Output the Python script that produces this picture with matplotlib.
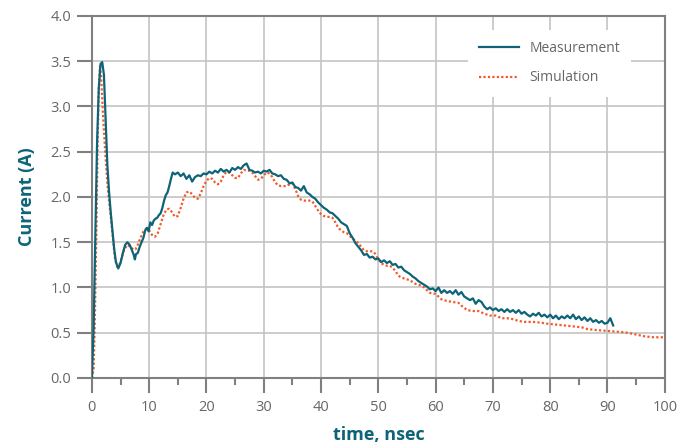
import numpy as np
import matplotlib.pyplot as plt

plt.rcParams["font.family"] = ["Open Sans", "DejaVu Sans"]

TEAL = "#0d6478"
ORANGE = "#f15a29"
GRID = "#c4c4c4"
AXIS = "#808080"
TICKTXT = "#666666"

# measured current: smooth start (pulse + ringing), then noisy record every 0.5 ns
meas_t_start = [0.0, 0.3, 0.6, 0.9, 1.2, 1.5, 1.8, 2.1, 2.4, 2.7, 3.0, 3.3, 3.6,
                3.9, 4.2, 4.6, 5.0, 5.4, 5.8, 6.2, 6.6, 7.0, 7.3, 7.5, 7.7, 8.0,
                8.3, 8.6, 9.0, 9.3, 9.6, 9.9, 10.2, 10.5, 10.8, 11.1, 11.4, 11.7,
                12.0, 12.3, 12.6, 12.9, 13.2, 13.5, 13.8, 14.1]
meas_i_start = [0.00, 0.55, 1.60, 2.60, 3.20, 3.47, 3.49, 3.35, 2.85, 2.35, 2.05,
                1.82, 1.62, 1.42, 1.28, 1.21, 1.27, 1.38, 1.47, 1.50, 1.47, 1.41,
                1.36, 1.31, 1.37, 1.38, 1.44, 1.49, 1.55, 1.63, 1.66, 1.62, 1.72,
                1.69, 1.74, 1.76, 1.77, 1.80, 1.82, 1.88, 1.96, 2.02, 2.05, 2.12,
                2.20, 2.27]
meas_i_tail = [
    2.25, 2.27, 2.23, 2.26, 2.20, 2.24, 2.17, 2.22, 2.24, 2.23,   # 14.5 - 19.0
    2.26, 2.25, 2.28, 2.26, 2.29, 2.27, 2.31, 2.28, 2.30, 2.27,   # 19.5 - 24.0
    2.32, 2.30, 2.33, 2.31, 2.35, 2.37, 2.30, 2.29, 2.27, 2.28,   # 24.5 - 29.0
    2.26, 2.29, 2.28, 2.30, 2.26, 2.25, 2.23, 2.24, 2.20, 2.19,   # 29.5 - 34.0
    2.15, 2.16, 2.11, 2.10, 2.07, 2.12, 2.05, 2.03, 2.00, 1.98,   # 34.5 - 39.0
    1.94, 1.91, 1.88, 1.86, 1.83, 1.82, 1.79, 1.76, 1.72, 1.70,   # 39.5 - 44.0
    1.68, 1.60, 1.55, 1.49, 1.45, 1.41, 1.36, 1.37, 1.33, 1.34,   # 44.5 - 49.0
    1.31, 1.32, 1.28, 1.30, 1.27, 1.29, 1.25, 1.26, 1.22, 1.23,   # 49.5 - 54.0
    1.19, 1.17, 1.15, 1.12, 1.10, 1.07, 1.05, 1.03, 1.01, 0.98,   # 54.5 - 59.0
    0.99, 0.96, 1.00, 0.94, 0.97, 0.94, 0.96, 0.93, 0.97, 0.92,   # 59.5 - 64.0
    0.95, 0.90, 0.88, 0.86, 0.88, 0.82, 0.86, 0.84, 0.79, 0.76,   # 64.5 - 69.0
    0.78, 0.75, 0.77, 0.74, 0.76, 0.73, 0.76, 0.73, 0.75, 0.72,   # 69.5 - 74.0
    0.75, 0.71, 0.73, 0.70, 0.68, 0.71, 0.69, 0.72, 0.68, 0.70,   # 74.5 - 79.0
    0.67, 0.70, 0.66, 0.69, 0.65, 0.68, 0.66, 0.69, 0.66, 0.70,   # 79.5 - 84.0
    0.65, 0.68, 0.64, 0.67, 0.63, 0.66, 0.62, 0.64, 0.61, 0.63,   # 84.5 - 89.0
    0.60, 0.61, 0.66, 0.58,                                       # 89.5 - 91.0
]
meas_tail_t0, meas_tail_dt = 14.5, 0.5

# simulated current
sim_t = [0.0, 0.3, 0.5, 0.8, 1.0, 1.2, 1.4, 1.6, 1.9, 2.3, 2.7, 3.0, 3.3, 3.7,
         4.0, 4.4, 4.8, 5.2, 5.7, 6.2, 6.7, 7.2, 7.6, 8.0, 8.5, 9.0, 9.5, 10.0,
         10.5, 11.0, 11.5, 12.0, 12.5, 13.0, 13.5, 14.0, 14.5, 15.0, 15.5, 16.0,
         16.5, 17.0, 17.5, 18.0, 18.5, 19.0, 19.5, 20.0, 20.5, 21.0, 21.5, 22.0,
         22.5, 23.0, 23.5, 24.0, 24.5, 25.0, 25.5, 26.0, 26.5, 27.0, 27.5, 28.0,
         28.5, 29.0, 29.5, 30.0, 30.5, 31.0, 31.5, 32.0, 32.5, 33.0, 33.5, 34.0,
         34.5, 35.0, 35.5, 36.0, 36.5, 37.0, 37.5, 38.0, 38.5, 39.0, 39.5, 40.0,
         40.5, 41.0, 41.5, 42.0, 42.5, 43.0, 43.5, 44.0, 44.5, 45.0, 45.5, 46.0,
         46.5, 47.0, 47.5, 48.0, 48.5, 49.0, 49.5, 50.0, 50.5, 51.0, 51.5, 52.0,
         52.5, 53.0, 53.5, 54.0, 54.5, 55.0, 55.5, 56.0, 56.5, 57.0, 57.5, 58.0,
         58.5, 59.0, 60.0, 60.5, 61.0, 62.0, 63.0, 64.0, 64.5, 65.5, 66.5, 67.5,
         68.5, 69.5, 70.5, 71.5, 72.5, 73.5, 74.5, 75.5, 77.0, 78.5, 79.5, 81.0,
         82.5, 84.0, 85.5, 86.5, 88.0, 90.0, 92.0, 93.5, 95.0, 96.5, 98.0, 100.0]
sim_i = [0.00, 0.10, 0.60, 1.70, 2.60, 3.20, 3.44, 3.35, 2.95, 2.52, 2.15, 1.95,
         1.78, 1.52, 1.33, 1.23, 1.25, 1.33, 1.43, 1.47, 1.45, 1.42, 1.42, 1.47,
         1.55, 1.62, 1.65, 1.63, 1.58, 1.56, 1.60, 1.70, 1.80, 1.86, 1.87, 1.83,
         1.78, 1.79, 1.88, 1.98, 2.05, 2.06, 2.03, 1.99, 1.98, 2.04, 2.12, 2.18,
         2.21, 2.20, 2.16, 2.14, 2.17, 2.24, 2.28, 2.27, 2.24, 2.21, 2.21, 2.26,
         2.30, 2.29, 2.29, 2.27, 2.23, 2.19, 2.20, 2.24, 2.27, 2.26, 2.22, 2.16,
         2.13, 2.12, 2.12, 2.12, 2.14, 2.15, 2.09, 2.01, 1.97, 1.96, 1.96, 1.96,
         1.95, 1.90, 1.85, 1.81, 1.79, 1.78, 1.78, 1.77, 1.72, 1.66, 1.63, 1.61,
         1.60, 1.57, 1.54, 1.52, 1.49, 1.45, 1.41, 1.40, 1.40, 1.40, 1.37, 1.31,
         1.27, 1.25, 1.24, 1.24, 1.22, 1.18, 1.13, 1.11, 1.10, 1.09, 1.08, 1.06,
         1.04, 1.03, 1.02, 1.00, 0.97, 0.94, 0.93, 0.90, 0.87, 0.85, 0.84, 0.83,
         0.80, 0.75, 0.74, 0.74, 0.71, 0.69, 0.69, 0.66, 0.66, 0.65, 0.63, 0.62,
         0.62, 0.61, 0.60, 0.59, 0.58, 0.57, 0.56, 0.54, 0.53, 0.52, 0.51, 0.50,
         0.48, 0.46, 0.45, 0.45]

meas_t = np.concatenate([meas_t_start,
                         meas_tail_t0 + meas_tail_dt * np.arange(len(meas_i_tail))])
meas_i = np.concatenate([meas_i_start, meas_i_tail])

fig = plt.figure(figsize=(6.91, 4.45), dpi=100)
ax = fig.add_axes([0.133, 0.1506, 0.829, 0.8135])

ax.plot(meas_t, meas_i, color=TEAL, lw=1.6, label="Measurement", zorder=3)
ax.plot(sim_t, sim_i, color=ORANGE, lw=1.6, ls=(0, (1, 1)), label="Simulation", zorder=2)

ax.set_xlim(0, 100)
ax.set_ylim(0, 4.0)
ax.set_xticks(np.arange(0, 101, 10))
ax.set_xticks(np.arange(5, 100, 10), minor=True)
ax.set_yticks(np.arange(0, 4.01, 0.5))
ax.yaxis.set_major_formatter(plt.FormatStrFormatter("%.1f"))

ax.grid(True, which="major", color=GRID, lw=1.2)
ax.set_axisbelow(True)
for s in ax.spines.values():
    s.set_color(AXIS)
    s.set_linewidth(1.5)

ax.tick_params(axis="both", which="major", direction="out", length=11, width=1.5,
               color=AXIS, labelcolor=TICKTXT, labelsize=10.5)
ax.tick_params(axis="x", which="major", pad=5)
ax.tick_params(axis="y", which="major", pad=4)
ax.tick_params(axis="x", which="minor", direction="out", length=5, width=1.5, color=AXIS)

ax.set_xlabel("time, nsec", color=TEAL, fontsize=13, fontweight="bold", labelpad=8)
ax.set_ylabel("Current (A)", color=TEAL, fontsize=13, fontweight="bold", labelpad=10)

leg = ax.legend(loc="upper left", bbox_to_anchor=(0.656, 0.962), frameon=True,
                handlelength=2.9, labelspacing=1.05, fontsize=10, borderpad=0.8,
                handletextpad=0.75, borderaxespad=0)
leg.get_frame().set_edgecolor("none")
leg.get_frame().set_facecolor("white")
leg.get_frame().set_alpha(1)
for txt in leg.get_texts():
    txt.set_color(TICKTXT)

fig.savefig("out.png", dpi=100)
